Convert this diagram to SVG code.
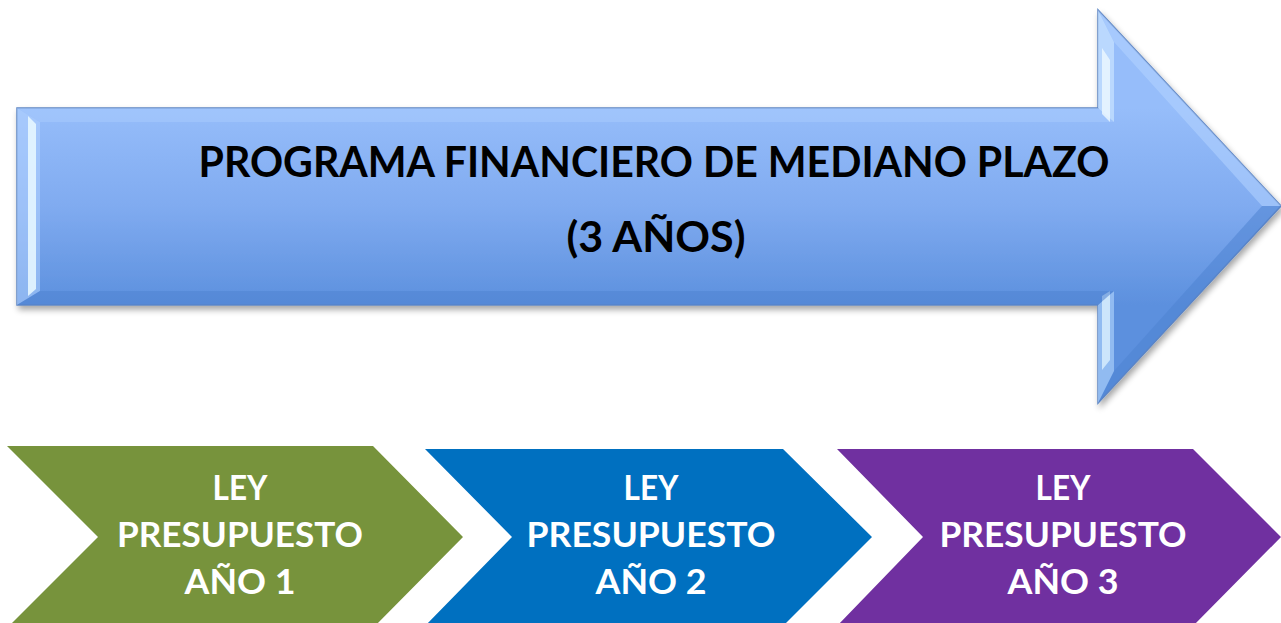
<svg xmlns="http://www.w3.org/2000/svg" width="1281" height="623" viewBox="0 0 1281 623">
  <style>
    .title { font-family: Lato, "Open Sans", "Liberation Sans", sans-serif; font-weight: 700; font-size: 42px; fill: #000; text-anchor: middle; }
    .lbl { font-family: Lato, "Open Sans", "Liberation Sans", sans-serif; font-weight: 700; font-size: 35px; fill: #fff; text-anchor: middle; }
  </style>
  <defs>
    <linearGradient id="bigFill" x1="0" y1="0" x2="0" y2="1" gradientUnits="objectBoundingBox">
      <stop offset="0" stop-color="#a3c8fb"/>
      <stop offset="0.3" stop-color="#8fb7f6"/>
      <stop offset="0.7" stop-color="#78a6ec"/>
      <stop offset="1" stop-color="#5288d8"/>
    </linearGradient>
    <linearGradient id="bodyFill" x1="0" y1="108" x2="0" y2="305" gradientUnits="userSpaceOnUse">
      <stop offset="0" stop-color="#96bdfa"/>
      <stop offset="0.5" stop-color="#80abf0"/>
      <stop offset="1" stop-color="#5c90de"/>
    </linearGradient>
    <filter id="shadow" x="-5%" y="-5%" width="110%" height="115%">
      <feGaussianBlur in="SourceAlpha" stdDeviation="3"/>
      <feOffset dx="2" dy="4" result="b"/>
      <feComponentTransfer><feFuncA type="linear" slope="0.35"/></feComponentTransfer>
      <feMerge><feMergeNode/><feMergeNode in="SourceGraphic"/></feMerge>
    </filter>
  </defs>

  <g id="programa-financiero">
    <g filter="url(#shadow)">
      <polygon points="17,108 1098,108 1098,10 1281,206 1098,403 1098,305 17,305" fill="url(#bodyFill)" stroke="#5f86c4" stroke-width="1.5"/>
    </g>
    <!-- bevel facets -->
    <polygon points="17,108 40,122 40,291 17,305" fill="#b5d4ff" opacity="0.55"/>
    <polygon points="28,116 36,124 36,289 28,296" fill="#e6f6ff" opacity="0.9"/>
    <polygon points="17,108 1098,108 1114,122 40,122" fill="#a9cbfd" opacity="0.5"/>
    <polygon points="1098,108 1098,10 1114,42 1114,122" fill="#c9e4ff" opacity="0.7"/>
    <polygon points="1102,48 1110,60 1110,122 1102,114" fill="#eef9ff" opacity="0.8"/>
    <polygon points="1098,10 1281,206 1262,206 1114,42" fill="#b5d4ff" opacity="0.55"/>
    <polygon points="1281,206 1098,403 1114,371 1262,206" fill="#4f84d2" opacity="0.55"/>
    <polygon points="1098,403 1098,305 1114,291 1114,371" fill="#a8cdfa" opacity="0.7"/>
    <polygon points="1102,296 1110,291 1110,360 1102,370" fill="#e6f6ff" opacity="0.7"/>
    <polygon points="1098,305 17,305 40,291 1114,291" fill="#4d82d0" opacity="0.5"/>
    <text class="title" x="654" y="177" textLength="911" lengthAdjust="spacingAndGlyphs">PROGRAMA FINANCIERO DE MEDIANO PLAZO</text>
    <text class="title" x="656" y="252" textLength="179" lengthAdjust="spacingAndGlyphs">(3 AÑOS)</text>
  </g>

  <g id="ley-ano-1">
    <polygon points="7,446 373,446 463,537 373,628 7,628 98,537" fill="#77933c"/>
    <text class="lbl" x="240" y="500" textLength="55" lengthAdjust="spacingAndGlyphs">LEY</text>
    <text class="lbl" x="240" y="547" textLength="246" lengthAdjust="spacingAndGlyphs">PRESUPUESTO</text>
    <text class="lbl" x="240" y="594" textLength="111" lengthAdjust="spacingAndGlyphs">AÑO 1</text>
  </g>

  <g id="ley-ano-2">
    <polygon points="425,449 783,449 872,537 783,626 425,626 512,537" fill="#0070c0"/>
    <text class="lbl" x="651" y="500" textLength="55" lengthAdjust="spacingAndGlyphs">LEY</text>
    <text class="lbl" x="651" y="547" textLength="249" lengthAdjust="spacingAndGlyphs">PRESUPUESTO</text>
    <text class="lbl" x="651" y="594" textLength="111" lengthAdjust="spacingAndGlyphs">AÑO 2</text>
  </g>

  <g id="ley-ano-3">
    <polygon points="837,449 1193,449 1281,537 1193,626 837,626 923,537" fill="#7030a0"/>
    <text class="lbl" x="1063" y="500" textLength="55" lengthAdjust="spacingAndGlyphs">LEY</text>
    <text class="lbl" x="1063" y="547" textLength="247" lengthAdjust="spacingAndGlyphs">PRESUPUESTO</text>
    <text class="lbl" x="1063" y="594" textLength="111" lengthAdjust="spacingAndGlyphs">AÑO 3</text>
  </g>

  <g id="connectors"/>
</svg>
